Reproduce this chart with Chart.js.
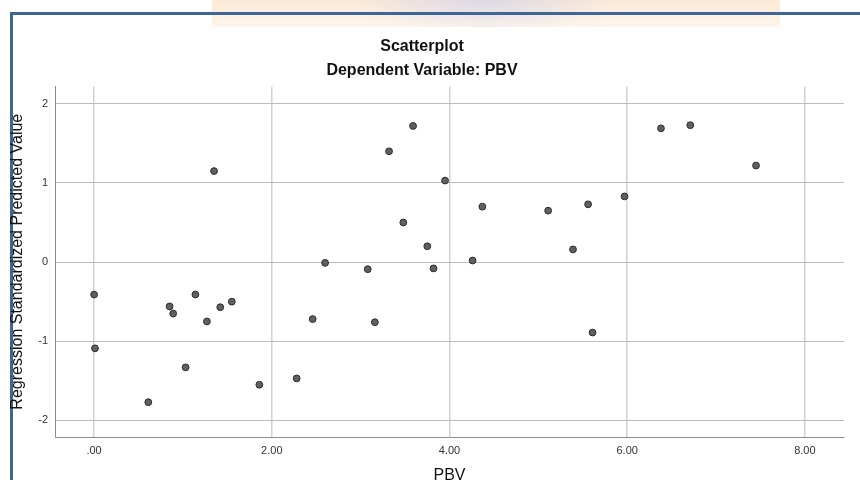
<!DOCTYPE html>
<html>
<head>
<meta charset="utf-8">
<title>Scatterplot</title>
<script src="https://cdn.jsdelivr.net/npm/chart.js@4.4.1/dist/chart.umd.min.js"></script>
<style>
  html, body { margin: 0; padding: 0; background: #fff; overflow: hidden; }
  #page { position: relative; width: 860px; height: 480px; overflow: hidden; background: #fff; }
  #logo {
    position: absolute; left: 212px; top: 0; width: 568px; height: 27px;
    background:
      radial-gradient(ellipse 130px 34px at 48% 0%, rgba(185, 195, 240, 0.55), rgba(185, 195, 240, 0) 100%),
      linear-gradient(#fbe6cf, #fdf4ea);
    opacity: 0.85;
  }
  #frame {
    position: absolute; left: 10px; top: 12px; right: 0; bottom: 0;
    border-top: 3px solid #3e6596; border-left: 3px solid #3e6596;
  }
  #chartBox { position: absolute; left: 0; top: 0; }
</style>
</head>
<body>
<div id="page">
  <div id="logo"></div>
  <div id="frame"></div>
  <canvas id="chartBox" width="860" height="488"></canvas>
</div>
<script>
// PBV (x) against regression standardized predicted value (y)
const pbvValues = [0.00, 0.01, 0.61, 0.85, 0.89, 1.03, 1.14, 1.27, 1.35, 1.42, 1.55,
  1.86, 2.28, 2.46, 2.60, 3.08, 3.16, 3.32, 3.48, 3.59, 3.75, 3.82,
  3.95, 4.26, 4.37, 5.11, 5.39, 5.56, 5.61, 5.97, 6.38, 6.71, 7.45]
const predictedValues = [-0.41, -1.09, -1.77, -0.56, -0.65, -1.33, -0.41, -0.75, 1.15, -0.57, -0.50,
  -1.55, -1.47, -0.72, -0.01, -0.09, -0.76, 1.40, 0.50, 1.72, 0.20, -0.08,
  1.03, 0.02, 0.70, 0.65, 0.16, 0.73, -0.89, 0.83, 1.69, 1.73, 1.22]

const xTickValues = [0, 2, 4, 6, 8]
const xTickLabels = [".00", "2.00", "4.00", "6.00", "8.00"]
const yTickValues = [-2, -1, 0, 1, 2]
const yTickLabels = ["-2", "-1", "0", "1", "2"]

const fontFamily = "'Liberation Sans', Arial, sans-serif"

const points = pbvValues.map((x, i) => ({ x: x, y: predictedValues[i] }))

new Chart(document.getElementById("chartBox").getContext("2d"), {
  type: "scatter",
  data: {
    datasets: [
      {
        data: points,
        backgroundColor: "#606060",
        borderColor: "#2c2c2c",
        borderWidth: 1,
        pointRadius: 3.4,
      },
    ],
  },
  options: {
    responsive: false,
    animation: false,
    layout: { padding: { left: 0, right: 16, top: 0, bottom: 0 } },
    scales: {
      x: {
        type: "linear",
        min: -0.44,
        max: 8.44,
        afterBuildTicks: (scale) => {
          scale.ticks = xTickValues.map((v) => ({ value: v }))
        },
        afterFit: (scale) => {
          scale.height = 51
        },
        grid: { color: "#d2d2d2", lineWidth: 1.5, drawTicks: false },
        border: { color: "#8c8c8c", width: 1 },
        ticks: {
          padding: 7,
          color: "#333",
          font: { family: fontFamily, size: 11 },
          callback: (value) => xTickLabels[xTickValues.indexOf(value)],
        },
        title: {
          display: true,
          text: "PBV",
          color: "#111",
          font: { family: fontFamily, size: 16 },
          padding: { top: 0, bottom: 3 },
        },
      },
      y: {
        type: "linear",
        min: -2.21,
        max: 2.22,
        afterBuildTicks: (scale) => {
          scale.ticks = yTickValues.map((v) => ({ value: v }))
        },
        afterFit: (scale) => {
          scale.width = 55
        },
        grid: { color: "#bdbdbd", lineWidth: 1, drawTicks: false },
        border: { color: "#8c8c8c", width: 1 },
        ticks: {
          padding: 7,
          color: "#333",
          font: { family: fontFamily, size: 11 },
          callback: (value) => yTickLabels[yTickValues.indexOf(value)],
        },
        title: {
          display: true,
          text: "Regression Standardized Predicted Value",
          color: "#111",
          font: { family: fontFamily, size: 16 },
          padding: { top: 8, bottom: 0 },
        },
      },
    },
    plugins: {
      legend: { display: false },
      tooltip: { enabled: false },
      title: {
        display: true,
        text: "Scatterplot",
        color: "#111",
        font: { family: fontFamily, size: 16, weight: "bold" },
        padding: { top: 37, bottom: 5 },
      },
      subtitle: {
        display: true,
        text: "Dependent Variable: PBV",
        color: "#111",
        font: { family: fontFamily, size: 16, weight: "bold" },
        padding: { top: 0, bottom: 6 },
      },
    },
  },
})
</script>
</body>
</html>
